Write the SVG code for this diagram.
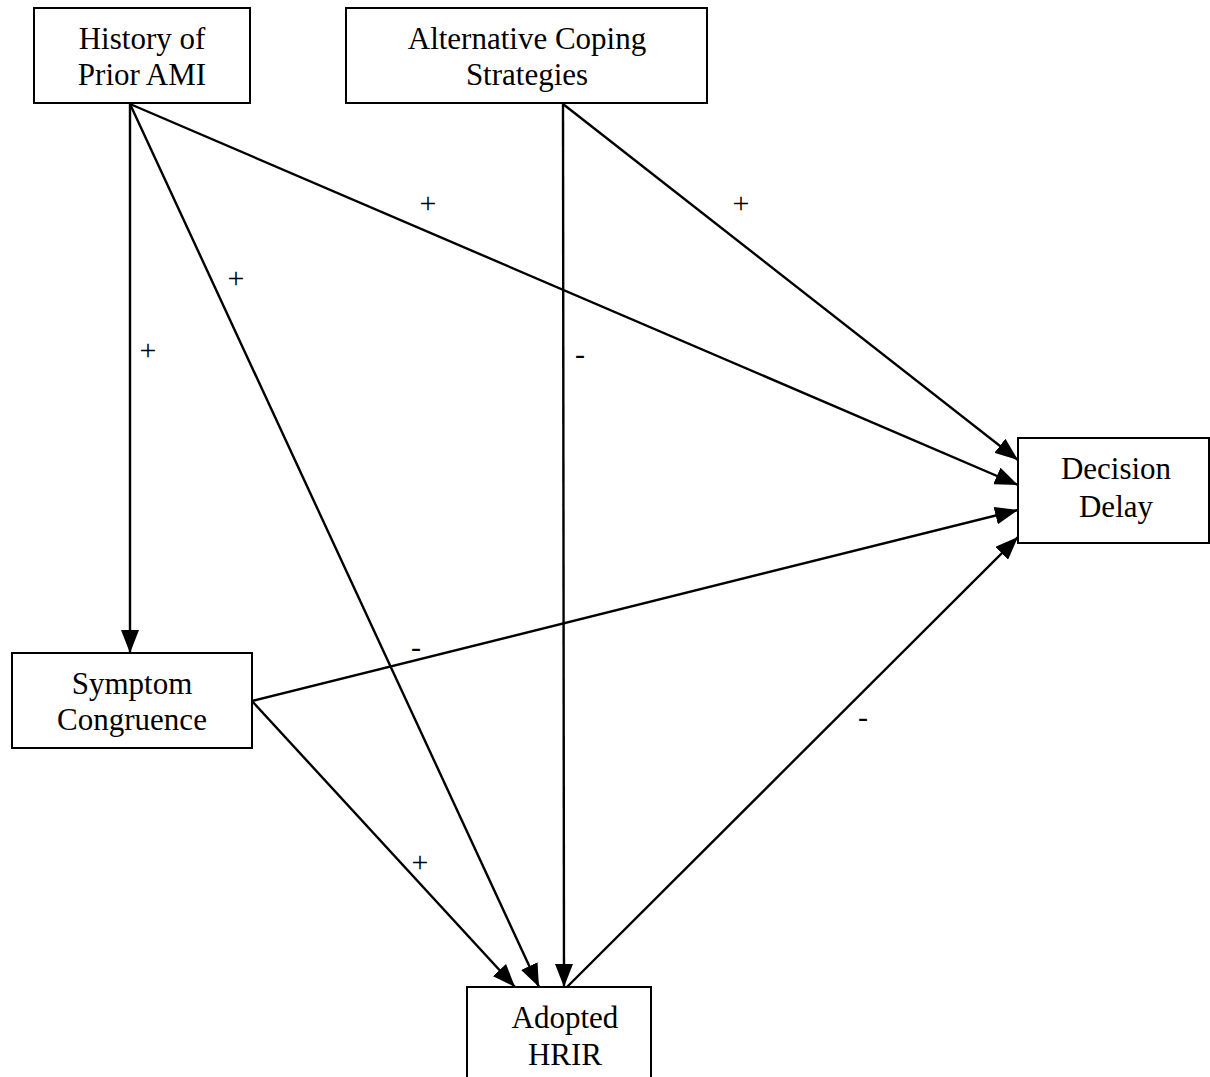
<svg xmlns="http://www.w3.org/2000/svg" width="1210" height="1077" viewBox="0 0 1210 1077">
<style>
.box{fill:#fff;stroke:#000;stroke-width:2}
.t{font-family:"Liberation Serif","Times New Roman",serif;font-size:31px;fill:#000;text-anchor:middle}
.s{font-family:"Liberation Serif","Times New Roman",serif;font-size:30px;fill:#000;text-anchor:middle}
.c{stroke:#000;stroke-width:2.4;fill:none;marker-end:url(#ah)}
</style>
<defs>
<marker id="ah" markerUnits="userSpaceOnUse" markerWidth="24" markerHeight="18" refX="23" refY="9" orient="auto">
<path d="M0,0 L23,9 L0,18 Z" fill="#000"/>
</marker>
</defs>
<rect width="1210" height="1077" fill="#fff"/>
<g id="connectors">
<line class="c" x1="130" y1="104" x2="130" y2="653"/>
<line class="c" x1="130" y1="104" x2="539" y2="987"/>
<line class="c" x1="130" y1="104" x2="1018" y2="485"/>
<line class="c" x1="563" y1="104" x2="564" y2="987"/>
<line class="c" x1="563" y1="104" x2="1018" y2="460"/>
<line class="c" x1="252" y1="701" x2="1018" y2="510"/>
<line class="c" x1="252" y1="701" x2="515" y2="987"/>
<line class="c" x1="567" y1="987" x2="1018" y2="537"/>
</g>
<g id="labels">
<text class="s" x="428" y="213">+</text>
<text class="s" x="236" y="288">+</text>
<text class="s" x="148" y="360">+</text>
<text class="s" x="741" y="213">+</text>
<text class="s" x="580" y="364">-</text>
<text class="s" x="416" y="657">-</text>
<text class="s" x="420" y="872">+</text>
<text class="s" x="863" y="727">-</text>
</g>
<g id="history">
<rect class="box" x="34" y="8" width="216" height="95"/>
<text class="t" x="142" y="49">History of</text>
<text class="t" x="142" y="85">Prior AMI</text>
</g>
<g id="alternative">
<rect class="box" x="346" y="8" width="361" height="95"/>
<text class="t" x="527" y="49">Alternative Coping</text>
<text class="t" x="527" y="85">Strategies</text>
</g>
<g id="decision">
<rect class="box" x="1018" y="438" width="191" height="105"/>
<text class="t" x="1116" y="479">Decision</text>
<text class="t" x="1116" y="517">Delay</text>
</g>
<g id="symptom">
<rect class="box" x="12" y="653" width="240" height="95"/>
<text class="t" x="132" y="694">Symptom</text>
<text class="t" x="132" y="730">Congruence</text>
</g>
<g id="adopted">
<rect class="box" x="467" y="987" width="184" height="110"/>
<text class="t" x="565" y="1028">Adopted</text>
<text class="t" x="565" y="1065">HRIR</text>
</g>
</svg>
